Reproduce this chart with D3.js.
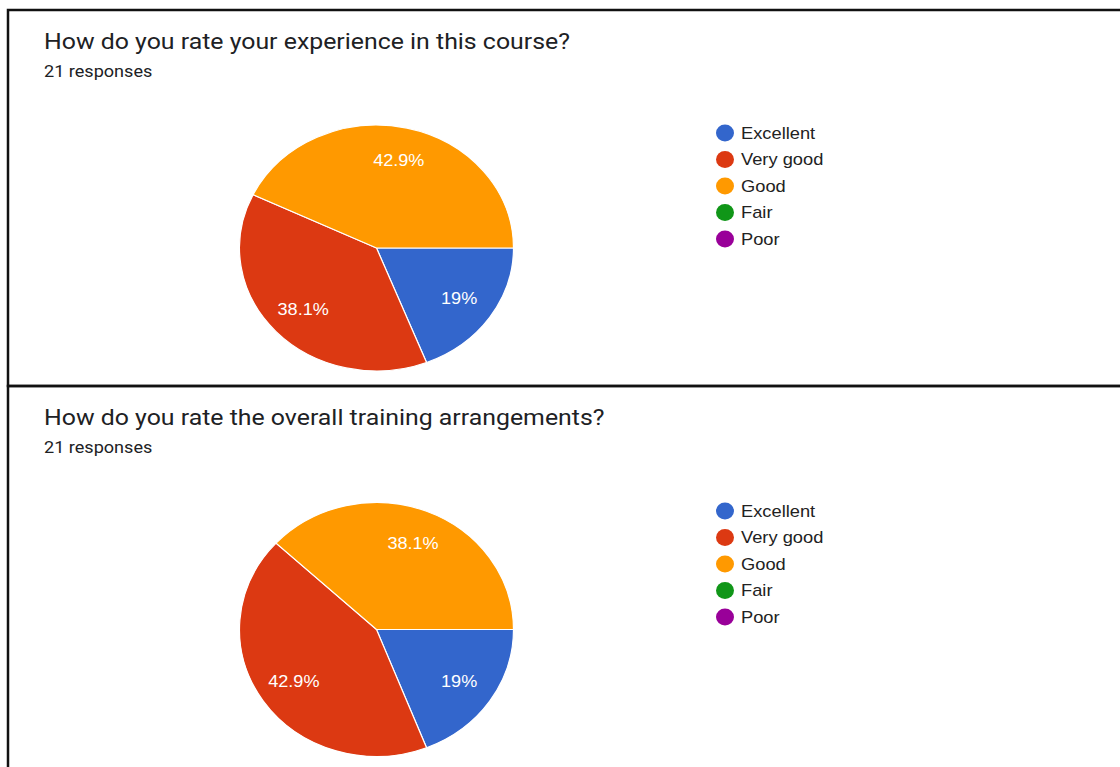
<!DOCTYPE html>
<html>
<head>
<meta charset="utf-8">
<script src="https://cdn.jsdelivr.net/npm/d3@7"></script>
<style>
  html, body { margin: 0; padding: 0; background: #fff; }
  svg { display: block; }
</style>
</head>
<body>
<svg id="chart" width="1120" height="767"></svg>
<script>
// Survey answer options, shared by both questions
const categories = ["Excellent", "Very good", "Good", "Fair", "Poor"];
const colors = ["#3366cc", "#dc3912", "#ff9900", "#109618", "#990099"];

// Question 1
const title1 = "How do you rate your experience in this course?";
const responses1 = 21;
const values1 = [4, 8, 9, 0, 0];
const labels1 = ["19%", "38.1%", "42.9%", "", ""];

// Question 2
const title2 = "How do you rate the overall training arrangements?";
const responses2 = 21;
const values2 = [4, 9, 8, 0, 0];
const labels2 = ["19%", "42.9%", "38.1%", "", ""];

const svg = d3.select("#chart");
const color = d3.scaleOrdinal().domain(categories).range(colors);
const stretch = 1.13; // the whole card is drawn slightly wider than tall

// Card frames
svg.append("rect").attr("x", 8).attr("y", 10).attr("width", 1130).attr("height", 376)
  .attr("fill", "none").attr("stroke", "#111").attr("stroke-width", 2.5);
svg.append("rect").attr("x", 8).attr("y", 386).attr("width", 1130).attr("height", 400)
  .attr("fill", "none").attr("stroke", "#111").attr("stroke-width", 2.5);

// Text that shares the horizontal stretch
function stretchedText(parent, x, y, str, opts) {
  return parent.append("text")
    .attr("transform", `translate(${x},${y}) scale(${stretch},1)`)
    .attr("text-anchor", opts.anchor || "start")
    .attr("dy", opts.dy || null)
    .attr("font-family", opts.family)
    .attr("font-size", opts.size)
    .attr("fill", opts.fill)
    .text(str);
}

function drawPanel(top, title, responses, values, labels, pie) {
  const g = svg.append("g").attr("transform", `translate(0,${top})`);

  stretchedText(g, 44, 39, title, { family: "Roboto, sans-serif", size: 22, fill: "#202124" });
  stretchedText(g, 44, 67, `${responses} responses`, { family: "Roboto, sans-serif", size: 16, fill: "#202124" });

  const data = categories.map((c, i) => ({ cat: c, value: values[i], label: labels[i] }));
  const arcs = d3.pie().sort(null).value(d => d.value)
    .startAngle(Math.PI / 2).endAngle(Math.PI / 2 + 2 * Math.PI)(data);

  const r = pie.ry;
  const sx = pie.rx / pie.ry;
  const arc = d3.arc().innerRadius(0).outerRadius(r);
  const labelArc = d3.arc().innerRadius(r * 0.73).outerRadius(r * 0.73);
  const shown = arcs.filter(a => a.value > 0);

  const pg = g.append("g").attr("transform", `translate(${pie.cx},${pie.cy - top})`);
  pg.append("g").attr("transform", `scale(${sx},1)`)
    .selectAll("path").data(shown).join("path")
    .attr("d", arc)
    .attr("fill", d => color(d.data.cat))
    .attr("stroke", "#fff").attr("stroke-width", 1.2)
    .attr("vector-effect", "non-scaling-stroke");

  shown.forEach(d => {
    const [lx, ly] = labelArc.centroid(d);
    stretchedText(pg, lx * sx, ly, d.data.label, {
      anchor: "middle", dy: "0.35em",
      family: "'Liberation Sans', Arial, sans-serif", size: 16, fill: "#fff"
    });
  });

  // Legend
  const lg = g.append("g").attr("transform", `translate(725,${pie.legendTop - top})`);
  categories.forEach((c, i) => {
    const item = lg.append("g").attr("transform", `translate(0,${i * 26.5})`);
    item.append("ellipse").attr("rx", 9).attr("ry", 8.5).attr("fill", color(c));
    stretchedText(item, 16, 0, c, {
      dy: "0.35em", family: "'Liberation Sans', Arial, sans-serif", size: 16.2, fill: "#222"
    });
  });
}

drawPanel(10, title1, responses1, values1, labels1, { cx: 376.5, cy: 248, rx: 137, ry: 123, legendTop: 133 });
drawPanel(386, title2, responses2, values2, labels2, { cx: 376.5, cy: 629.5, rx: 137, ry: 127, legendTop: 511 });
</script>
</body>
</html>
